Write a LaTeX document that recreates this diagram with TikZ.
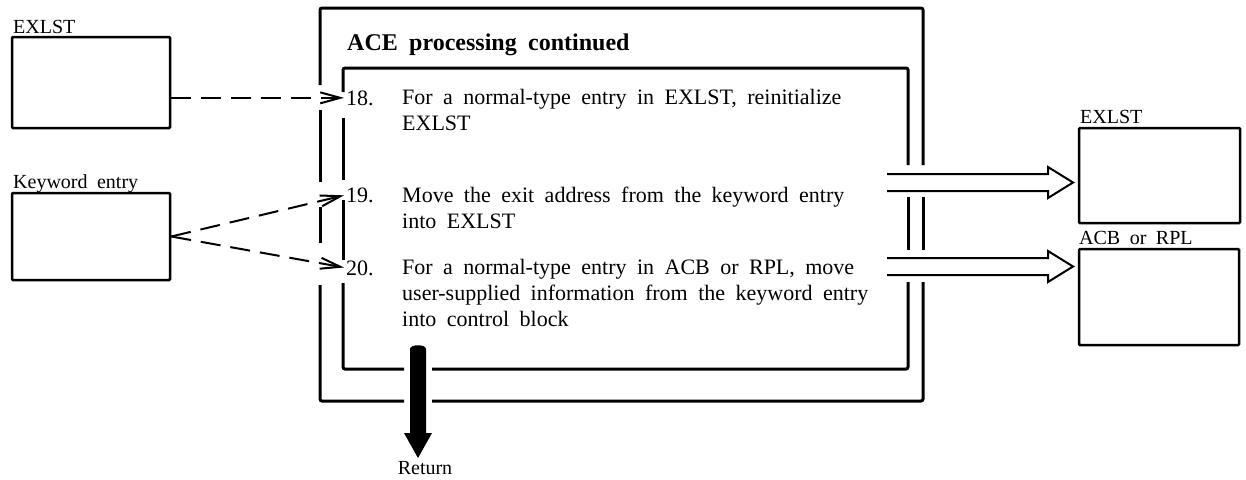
\documentclass[tikz,border=0pt]{standalone}
\usepackage{fontspec}
\setmainfont{Liberation Serif}[WordSpace=1.9]
\usetikzlibrary{arrows.meta,calc}
\begin{document}
\begin{tikzpicture}[x=1pt,y=-1pt,
  blk/.style={draw, line width=2.5pt, inner sep=0pt, rounded corners=1pt},
  lbl/.style={anchor=base west, inner sep=0pt, font=\fontsize{20}{24}\selectfont},
  num/.style={anchor=base west, inner sep=0pt, font=\fontsize{22}{26}\selectfont},
  itm/.style={anchor=north west, inner sep=0pt, align=left, font=\fontsize{22}{26}\selectfont},
  frame/.style={line width=3pt, rounded corners=2pt},
  dsh/.style={line width=2pt, dash pattern=on 20pt off 10pt,
    -{Straight Barb[length=20pt,width=11pt,line width=2pt]}, shorten >=2pt},
  hollow/.style={line width=2pt, line join=miter}]
\useasboundingbox (0,0) rectangle (1246,479);

% data areas on the left
\node[blk, minimum width=158pt, minimum height=91pt] (lx) at (91,82.5) {};
\node[lbl] (lxl) at (13,33) {EXLST};
\node[blk, minimum width=158pt, minimum height=87pt] (lk) at (91,236.5) {};
\node[lbl] (lkl) at (13,188) {Keyword entry};

% data areas on the right
\node[blk, minimum width=161pt, minimum height=95pt] (rx) at (1159.5,175.5) {};
\node[lbl] (rxl) at (1080,123) {EXLST};
\node[blk, minimum width=160pt, minimum height=96pt] (ra) at (1159,297) {};
\node[lbl] (ral) at (1079,244) {ACB or RPL};

% outer frame with openings for the connectors
\draw[frame] (923,165) -- (923,8) -- (320,8) -- (320,85);
\draw[frame] (320,110) -- (320,182);
\draw[frame] (320,207) -- (320,243);
\draw[frame] (320,285) -- (320,401) -- (404,401);
\draw[frame] (432,401) -- (923,401) -- (923,282);
\draw[frame] (923,250) -- (923,197);

% inner frame
\draw[frame] (908,165) -- (908,68) -- (343,68) -- (343,92);
\draw[frame] (343,118) -- (343,180);
\draw[frame] (343,200) -- (343,260);
\draw[frame] (343,283) -- (343,369) -- (404,369);
\draw[frame] (432,369) -- (908,369) -- (908,282);
\draw[frame] (908,250) -- (908,197);

% heading
\node[anchor=base west, inner sep=0pt, font=\fontsize{24}{28}\selectfont\bfseries] (hd) at (347,50) {ACE processing continued};

% steps
\node[num] (n18) at (346,105) {18.};
\node[itm] (s18) at (402,89.5) {For a normal-type entry in EXLST, reinitialize\\EXLST};
\node[num] (n19) at (346,202) {19.};
\node[itm] (s19) at (402,186.5) {Move the exit address from the keyword entry\\into EXLST};
\node[num] (n20) at (346,275) {20.};
\node[itm] (s20) at (402,259.5) {For a normal-type entry in ACB or RPL, move\\user-supplied information from the keyword entry\\into control block};

% input connectors
\draw[dsh] (lx.east |- n18.west) -- (n18.west);
\draw[dsh] (lk.east) -- (n19.west);
\draw[dsh] (lk.east) -- (n20.west);

% output arrows
\coordinate (h1) at (1073,182.5);
\coordinate (h2) at (1073,266.5);
\draw[hollow] ($(h1)+(-186,-8.5)$) -- ++(161,0) -- ++(0,-7) -- (h1) -- ++(-25,15.5) -- ++(0,-7) -- ++(-161,0);
\draw[hollow] ($(h2)+(-186,-8.5)$) -- ++(161,0) -- ++(0,-7) -- (h2) -- ++(-25,15.5) -- ++(0,-7) -- ++(-161,0);

% return
\fill (410,433) -- (410,349) .. controls (410,344) and (426,344) .. (426,349) -- (426,433) -- (432,433) -- (418,458) -- (404,433) -- cycle;
\node[anchor=base, inner sep=0pt, font=\fontsize{20}{24}\selectfont] (ret) at (425,474) {Return};
\end{tikzpicture}
\end{document}
